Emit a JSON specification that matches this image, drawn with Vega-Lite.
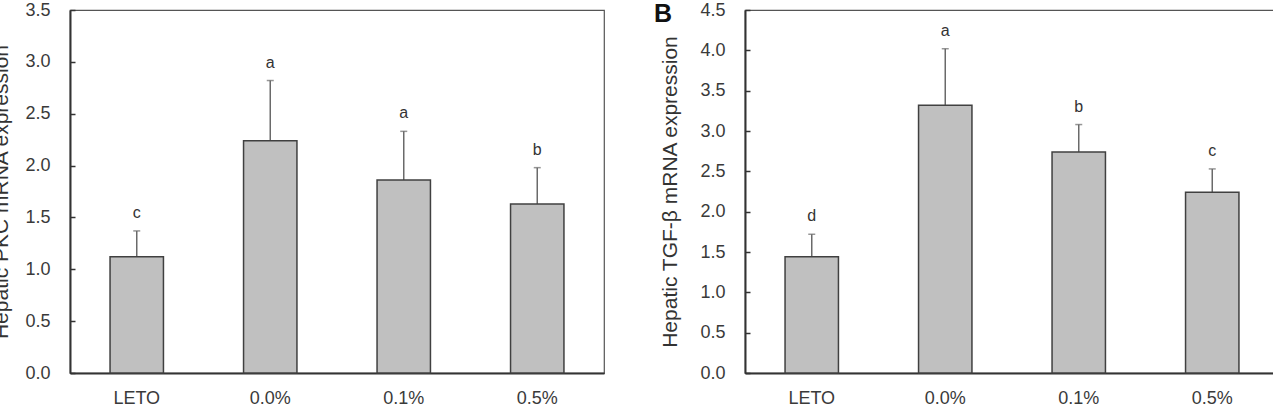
{
  "$schema": "https://vega.github.io/schema/vega-lite/v6.json",
  "autosize": {"type": "pad"},
  "padding": {"left": -10, "right": -7, "top": 0, "bottom": 0},
  "config": {
    "font": "Liberation Sans",
    "view": {"stroke": "#555555", "strokeWidth": 1.2},
    "axis": {
      "labelFont": "Liberation Sans", "labelColor": "#3a3a3a", "labelFontSize": 18,
      "titleFont": "Liberation Sans", "titleFontWeight": "normal", "titleColor": "#333333", "titleFontSize": 21,
      "grid": false, "domainColor": "#333333", "domainWidth": 2, "tickColor": "#333333", "tickWidth": 1.5
    },
    "concat": {"spacing": 48}
  },
  "datasets": {
    "pkc": [
      {"group": "LETO", "mean": 1.12, "upper": 1.37, "letter": "c"},
      {"group": "0.0%", "mean": 2.24, "upper": 2.82, "letter": "a"},
      {"group": "0.1%", "mean": 1.86, "upper": 2.33, "letter": "a"},
      {"group": "0.5%", "mean": 1.63, "upper": 1.98, "letter": "b"}
    ],
    "tgf": [
      {"group": "LETO", "mean": 1.44, "upper": 1.72, "letter": "d"},
      {"group": "0.0%", "mean": 3.32, "upper": 4.02, "letter": "a"},
      {"group": "0.1%", "mean": 2.74, "upper": 3.08, "letter": "b"},
      {"group": "0.5%", "mean": 2.24, "upper": 2.53, "letter": "c"}
    ]
  },
  "hconcat": [
    {
      "width": 534, "height": 363,
      "data": {"name": "pkc"},
      "encoding": {
        "x": {"field": "group", "type": "nominal", "sort": null,
              "scale": {"paddingInner": 0, "paddingOuter": 0},
              "axis": {"title": null, "labelAngle": 0, "ticks": false, "labelPadding": 16}}
      },
      "layer": [
        {"mark": {"type": "rule", "color": "#6a6a6a", "strokeWidth": 1.5},
         "encoding": {
           "y": {"field": "mean", "type": "quantitative",
                 "scale": {"domain": [0, 3.5], "nice": false, "zero": true},
                 "axis": {"title": "Hepatic PKC mRNA expression", "values": [0, 0.5, 1, 1.5, 2, 2.5, 3, 3.5], "format": ".1f",
                          "tickSize": -5, "labelPadding": 25, "titlePadding": 13}},
           "y2": {"field": "upper"}}},
        {"mark": {"type": "bar", "width": {"band": 0.4}, "fill": "#c0c0c0", "stroke": "#404040", "strokeWidth": 1.5},
         "encoding": {"y": {"field": "mean", "type": "quantitative"}}},
        {"mark": {"type": "tick", "color": "#6a6a6a", "size": 7, "thickness": 1.5},
         "encoding": {"y": {"field": "upper", "type": "quantitative"}}},
        {"mark": {"type": "text", "dy": -18, "fontSize": 16, "color": "#333333", "baseline": "middle"},
         "encoding": {"y": {"field": "upper", "type": "quantitative"}, "text": {"field": "letter"}}}
      ]
    },
    {
      "width": 534, "height": 363,
      "title": {"text": "B", "orient": "left", "anchor": "end", "frame": "group", "angle": 0, "align": "left", "baseline": "top",
                "offset": -12, "dy": -8,
                "fontSize": 25, "fontWeight": "bold", "color": "#111111", "font": "Liberation Sans"},
      "data": {"name": "tgf"},
      "encoding": {
        "x": {"field": "group", "type": "nominal", "sort": null,
              "scale": {"paddingInner": 0, "paddingOuter": 0},
              "axis": {"title": null, "labelAngle": 0, "ticks": false, "labelPadding": 16}}
      },
      "layer": [
        {"mark": {"type": "rule", "color": "#6a6a6a", "strokeWidth": 1.5},
         "encoding": {
           "y": {"field": "mean", "type": "quantitative",
                 "scale": {"domain": [0, 4.5], "nice": false, "zero": true},
                 "axis": {"title": "Hepatic TGF-β mRNA expression", "values": [0, 0.5, 1, 1.5, 2, 2.5, 3, 3.5, 4, 4.5], "format": ".1f",
                          "tickSize": -5, "labelPadding": 25, "titlePadding": 19}},
           "y2": {"field": "upper"}}},
        {"mark": {"type": "bar", "width": {"band": 0.4}, "fill": "#c0c0c0", "stroke": "#404040", "strokeWidth": 1.5},
         "encoding": {"y": {"field": "mean", "type": "quantitative"}}},
        {"mark": {"type": "tick", "color": "#6a6a6a", "size": 7, "thickness": 1.5},
         "encoding": {"y": {"field": "upper", "type": "quantitative"}}},
        {"mark": {"type": "text", "dy": -18, "fontSize": 16, "color": "#333333", "baseline": "middle"},
         "encoding": {"y": {"field": "upper", "type": "quantitative"}, "text": {"field": "letter"}}}
      ]
    }
  ]
}
